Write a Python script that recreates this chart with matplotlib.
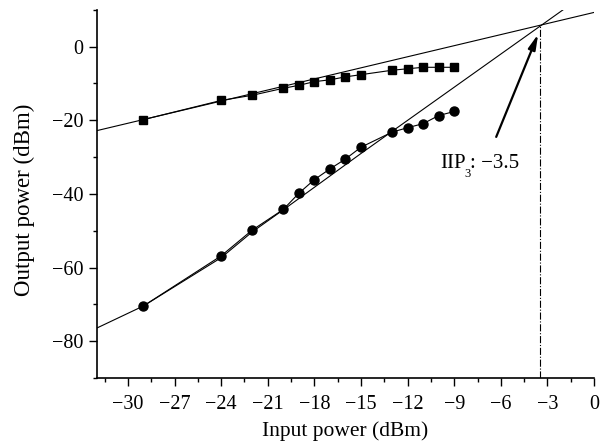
import numpy as np
import matplotlib
matplotlib.use("Agg")
import matplotlib.pyplot as plt
from matplotlib.ticker import MultipleLocator
from matplotlib.transforms import offset_copy

plt.rcParams['font.family'] = ['Liberation Serif', 'DejaVu Serif']

# 数据：基波（方块）和三阶交调（圆点）
fund_x = [-29, -24, -22, -20, -19, -18, -17, -16, -15, -13, -12, -11, -10, -9]
fund_y = [-19.8, -14.6, -13.2, -11.3, -10.5, -9.5, -9.0, -8.2, -7.6, -6.4, -6.0, -5.6, -5.6, -5.6]

im3_x = [-29, -24, -22, -20, -19, -18, -17, -16, -15, -13, -12, -11, -10, -9]
im3_y = [-70.4, -56.8, -49.8, -44.2, -39.8, -36.1, -33.2, -30.5, -27.3, -23.2, -22.0, -20.9, -18.7, -17.6]

# 外推线
fund_fit_x = [-32, 0]
fund_fit_y = [-22.8, 9.3]
im3_fit_x = [-32, -29, -24, -22, -20, -15, -2]
im3_fit_y = [-76.4, -70.4, -57.3, -50.3, -44.3, -29.0, 10.0]

iip3_x = -3.5
iip3_y = 5.7

fig = plt.figure(figsize=(6.05, 4.47), dpi=100)
ax = fig.add_axes([0.160, 0.154, 0.822, 0.824])

ax.plot(fund_fit_x, fund_fit_y, color='black', lw=0.8)
ax.plot(im3_fit_x, im3_fit_y, color='black', lw=0.8)
ax.plot(fund_x, fund_y, color='black', lw=0.8, marker='s', markersize=6)
ax.plot(im3_x, im3_y, color='black', lw=0.8, marker='o', markersize=6.5)

# IIP3 垂直虚线
ax.plot([iip3_x, iip3_x], [-90, iip3_y], color='black', lw=0.8, linestyle='-.')

ax.annotate('', xy=(-3.6, 3.4), xytext=(-6.3, -24.5),
            arrowprops=dict(arrowstyle='-|>,head_length=0.9,head_width=0.22',
                            color='black', lw=1.6, shrinkA=0, shrinkB=0))

# IIP3 标注，下标单独画
tx, ty = -9.9, -33
t1 = ax.text(tx, ty, 'IIP', fontsize=15)
fig.canvas.draw()
w1 = t1.get_window_extent().width
t2 = ax.text(tx, ty, '3', fontsize=9,
             transform=offset_copy(ax.transData, fig, x=w1 - 1.5, y=-9, units='dots'))
fig.canvas.draw()
w2 = t2.get_window_extent().width
ax.text(tx, ty, ': \u22123.5', fontsize=15,
        transform=offset_copy(ax.transData, fig, x=w1 + w2 - 2.5, y=0, units='dots'))

ax.set_xlim(-32, 0)
ax.set_ylim(-90, 10)
ax.xaxis.set_major_locator(MultipleLocator(3))
ax.xaxis.set_minor_locator(MultipleLocator(1.5))
ax.yaxis.set_major_locator(MultipleLocator(20))
ax.yaxis.set_minor_locator(MultipleLocator(10))
ax.set_yticks([-80, -60, -40, -20, 0])

for s in ['top', 'right']:
    ax.spines[s].set_visible(False)
for s in ['left', 'bottom']:
    ax.spines[s].set_linewidth(1.2)

ax.tick_params(which='major', direction='out', length=6, width=1.0, labelsize=14.5)
ax.tick_params(axis='x', which='major', pad=6)
ax.tick_params(which='minor', direction='out', length=3, width=1.0)

ax.set_xlabel('Input power (dBm)', fontsize=15.5, labelpad=5)
ax.set_ylabel('Output power (dBm)', fontsize=16.5, labelpad=12)
ax.yaxis.label.set_y(0.484)

plt.savefig('out.png', dpi=100)
plt.close()
